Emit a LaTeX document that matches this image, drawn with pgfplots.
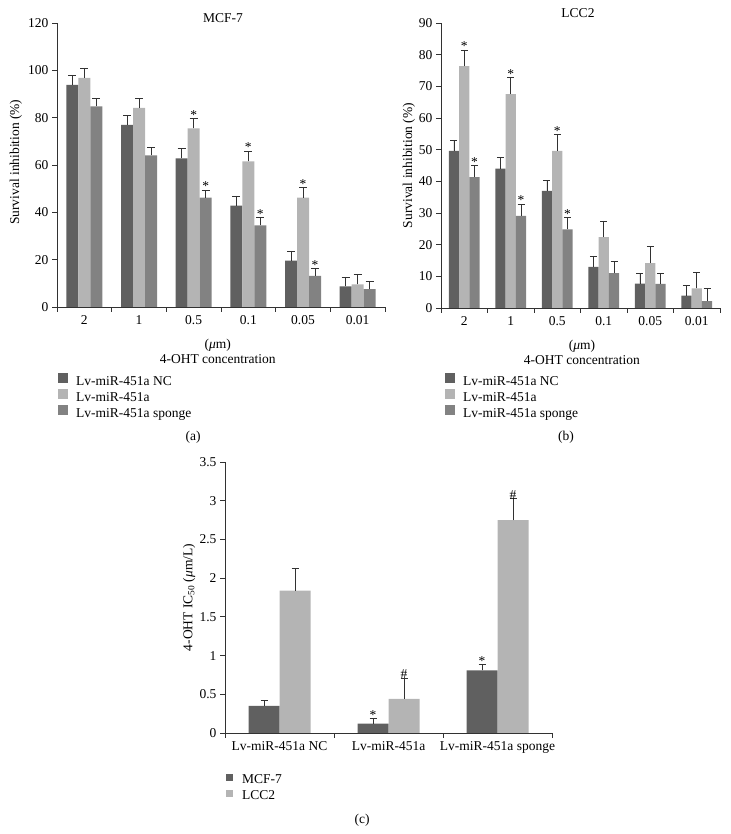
\documentclass[border=0pt]{standalone}
\usepackage{fontspec}
\setmainfont{Liberation Serif}
\usepackage{pgfplots}
\usepackage{pgfplotstable}
\pgfplotsset{compat=1.18}

\definecolor{cdark}{RGB}{96,96,96}
\definecolor{clight}{RGB}{180,180,180}
\definecolor{cmid}{RGB}{130,130,130}
\definecolor{cline}{RGB}{50,50,50}

% Panel (a): MCF-7
\pgfplotstableread{
x nc ncerr nclab a aerr alab sp sperr splab
0 93.9 4.0 {} 96.8 4.2 {} 84.8 3.4 {}
1 77.0 4.0 {} 84.1 4.2 {} 64.1 3.2 {}
2 62.8 4.1 {} 75.5 4.2 * 46.2 3.2 *
3 42.8 4.1 {} 61.5 4.4 * 34.5 3.4 *
4 19.6 4.1 {} 46.2 4.4 * 13.1 3.2 *
5 8.7 4.0 {} 9.6 4.3 {} 7.6 3.2 {}
}\tblA

% Panel (b): LCC2
\pgfplotstableread{
x nc ncerr nclab a aerr alab sp sperr splab
0 49.6 3.3 {} 76.4 5.1 * 41.3 3.7 *
1 44.0 3.4 {} 67.5 5.2 * 29.1 3.7 *
2 37.0 3.3 {} 49.6 5.1 * 24.8 3.7 *
3 13.0 3.4 {} 22.4 5.1 {} 11.0 3.8 {}
4 7.7 3.2 {} 14.2 5.1 {} 7.6 3.4 {}
5 3.9 3.3 {} 6.2 5.0 {} 2.2 3.9 {}
}\tblB

% Panel (c): IC50
\pgfplotstableread{
x mcf mcferr mcflab lcc lccerr lcclab
0 0.35 0.07 {} 1.84 0.28 {}
1 0.12 0.07 * 0.44 0.27 \#
2 0.81 0.07 * 2.75 0.28 \#
}\tblC

\newcommand{\fs}{\fontsize{13.5}{15}\selectfont}

\pgfplotsset{
  base/.style={
    scale only axis, clip=false,
    font=\fs,
    axis lines*=left, tick align=outside,
    axis line style={cline, line width=0.8pt},
    tick style={cline, line width=0.8pt},
    major tick length=5pt, minor tick length=5pt,
    major x tick style={draw=none},
    /pgf/number format/assume math mode=true,
    ybar=0pt,
    every axis title shift=0pt,
    legend cell align=left,
    legend style={draw=none, fill=none, inner sep=0pt, row sep=1pt,
      nodes={inner xsep=0pt, inner ysep=0pt, text height=9pt, text depth=3pt}},
    ylabel style={anchor=center},
    title style={anchor=center},
    xlabel style={anchor=center, align=center},
  },
  eb/.style={error bars/.cd, y dir=plus, y explicit,
    error bar style={line width=0.8pt, cline},
    error mark options={rotate=90, line width=0.8pt, cline, mark size=#1}},
  sq/.style={legend image code/.code={\fill[##1] (0pt,-1pt) rectangle (10pt,9pt); \path (18pt,0pt);}},
  sqc/.style={legend image code/.code={\fill[##1] (0pt,0pt) rectangle (7pt,7pt); \path (16pt,0pt);}},
  star/.style={forget plot, draw=none, fill=none, nodes near coords,
    point meta=explicit symbolic,
    nodes near coords style={inner sep=0pt, anchor=south, yshift=-1pt, font=\fs}},
}

\begin{document}
\begin{tikzpicture}
\path[use as bounding box] (0pt,0pt) rectangle (730pt,834pt);

% ---------------- (a) ----------------
\begin{axis}[base,
  at={(57pt,527pt)}, anchor=south west,
  width=328pt, height=284pt,
  xmin=-0.5, xmax=5.5, ymin=0, ymax=120,
  ytick={0,20,...,120},
  xtick={0,...,5}, xticklabels={2,1,0.5,0.1,0.05,0.01},
  minor xtick={-0.5,0.5,...,5.5},
  bar width=12pt,
  title={MCF-7}, title style={at={(axis description cs:0.506,1.018)}},
  ylabel={Survival inhibition (\%)}, ylabel style={at={(axis description cs:-0.125,0.51)}},
  xlabel={(\textit{μ}m)\\4-OHT concentration}, xlabel style={at={(axis description cs:0.49,-0.155)}},
  legend style={at={(axis description cs:0.003,-0.232)}, anchor=north west},
]
\addplot[fill=cdark, draw=none, bar shift=-12pt, sq, eb=4pt] table[x=x, y=nc, y error=ncerr] {\tblA};
\addplot[fill=clight, draw=none, bar shift=0pt, sq, eb=4pt] table[x=x, y=a, y error=aerr] {\tblA};
\addplot[fill=cmid, draw=none, bar shift=12pt, sq, eb=4pt] table[x=x, y=sp, y error=sperr] {\tblA};
\addplot[star, bar shift=-12pt] table[x=x, y expr=\thisrow{nc}+\thisrow{ncerr}, meta=nclab] {\tblA};
\addplot[star, bar shift=0pt] table[x=x, y expr=\thisrow{a}+\thisrow{aerr}, meta=alab] {\tblA};
\addplot[star, bar shift=12pt] table[x=x, y expr=\thisrow{sp}+\thisrow{sperr}, meta=splab] {\tblA};
\legend{Lv-miR-451a NC, Lv-miR-451a, Lv-miR-451a sponge}
\end{axis}

% ---------------- (b) ----------------
\begin{axis}[base,
  at={(441pt,526pt)}, anchor=south west,
  width=279pt, height=285pt,
  xmin=-0.5, xmax=5.5, ymin=0, ymax=90,
  ytick={0,10,...,90},
  xtick={0,...,5}, xticklabels={2,1,0.5,0.1,0.05,0.01},
  minor xtick={-0.5,0.5,...,5.5},
  bar width=10.3pt,
  title={LCC2}, title style={at={(axis description cs:0.491,1.035)}},
  ylabel={Survival inhibition (\%)}, ylabel style={at={(axis description cs:-0.115,0.50)}},
  xlabel={(\textit{μ}m)\\4-OHT concentration}, xlabel style={at={(axis description cs:0.505,-0.154)}},
  legend style={at={(axis description cs:0.014,-0.228)}, anchor=north west},
]
\addplot[fill=cdark, draw=none, bar shift=-10.3pt, sq, eb=3.5pt] table[x=x, y=nc, y error=ncerr] {\tblB};
\addplot[fill=clight, draw=none, bar shift=0pt, sq, eb=3.5pt] table[x=x, y=a, y error=aerr] {\tblB};
\addplot[fill=cmid, draw=none, bar shift=10.3pt, sq, eb=3.5pt] table[x=x, y=sp, y error=sperr] {\tblB};
\addplot[star, bar shift=-10.3pt] table[x=x, y expr=\thisrow{nc}+\thisrow{ncerr}, meta=nclab] {\tblB};
\addplot[star, bar shift=0pt] table[x=x, y expr=\thisrow{a}+\thisrow{aerr}, meta=alab] {\tblB};
\addplot[star, bar shift=10.3pt] table[x=x, y expr=\thisrow{sp}+\thisrow{sperr}, meta=splab] {\tblB};
\legend{Lv-miR-451a NC, Lv-miR-451a, Lv-miR-451a sponge}
\end{axis}

% ---------------- (c) ----------------
\begin{axis}[base,
  at={(225pt,101pt)}, anchor=south west,
  width=327pt, height=271pt,
  xmin=-0.5, xmax=2.5, ymin=0, ymax=3.5,
  ytick={0,0.5,...,3.5},
  xtick={0,1,2}, xticklabels={Lv-miR-451a NC, Lv-miR-451a, Lv-miR-451a sponge},
  minor xtick={-0.5,0.5,1.5,2.5},
  bar width=31pt,
  ylabel={4-OHT IC\textsubscript{50} (\textit{μ}m/L)}, ylabel style={at={(axis description cs:-0.11,0.50)}},
  legend style={at={(axis description cs:0.003,-0.15)}, anchor=north west, row sep=3pt},
]
\addplot[fill=cdark, draw=none, bar shift=-15.5pt, sqc, eb=3.5pt] table[x=x, y=mcf, y error=mcferr] {\tblC};
\addplot[fill=clight, draw=none, bar shift=15.5pt, sqc, eb=3.5pt] table[x=x, y=lcc, y error=lccerr] {\tblC};
\addplot[star, bar shift=-15.5pt] table[x=x, y expr=\thisrow{mcf}+\thisrow{mcferr}, meta=mcflab] {\tblC};
\addplot[star, bar shift=15.5pt] table[x=x, y expr=\thisrow{lcc}+\thisrow{lccerr}, meta=lcclab] {\tblC};
\legend{MCF-7, LCC2}
\end{axis}

\node[font=\fs] at (193pt,397pt) {(a)};
\node[font=\fs] at (566pt,397pt) {(b)};
\node[font=\fs] at (362pt,14pt) {(c)};
\end{tikzpicture}
\end{document}
